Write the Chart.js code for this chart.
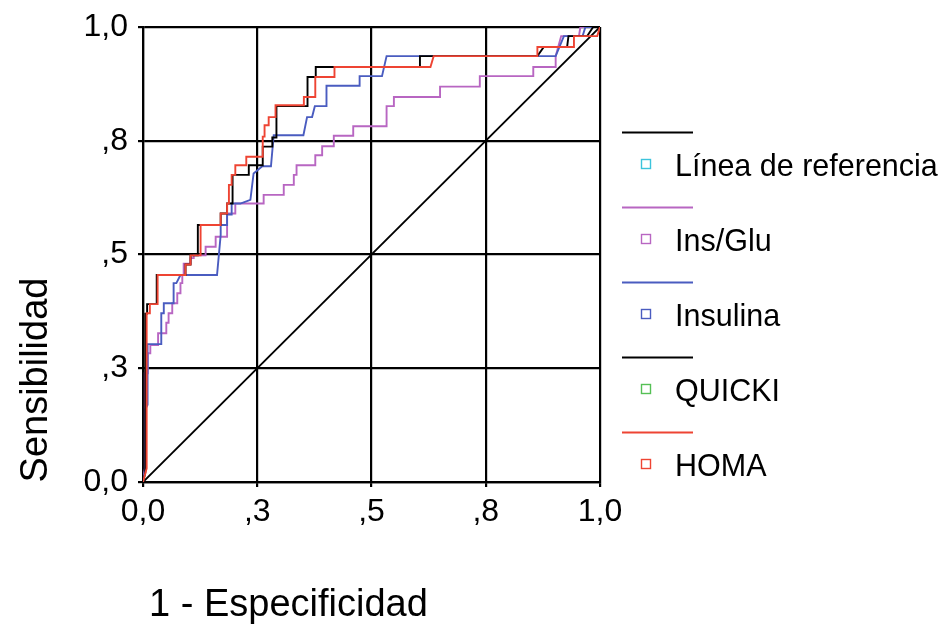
<!DOCTYPE html>
<html>
<head>
<meta charset="utf-8">
<script src="https://cdn.jsdelivr.net/npm/chart.js@4.4.0/dist/chart.umd.min.js"></script>
<style>
  html, body { margin: 0; padding: 0; background: #fff; }
  #wrap { width: 944px; height: 631px; position: relative; }
</style>
</head>
<body>
<div id="wrap"><canvas id="rocChart" width="944" height="631"></canvas></div>
<script>
// axis ticks (SPSS style labels)
const tickValues = [0, 0.25, 0.5, 0.75, 1];
const xTickLabels = ['0,0', ',3', ',5', ',8', '1,0'];
const yTickLabels = ['0,0', ',3', ',5', ',8', '1,0'];

const seriesLabels = ['Línea de referencia', 'Ins/Glu', 'Insulina', 'QUICKI', 'HOMA'];

// [1 - especificidad, sensibilidad]
const refPts = [[0, 0], [1, 1]];

const insGluPts = [[0,0],[0.004,0.03],[0.004,0.239],[0.0105,0.239],[0.0105,0.283],[0.016,0.283],[0.016,0.301],
  [0.033,0.301],[0.033,0.327],[0.051,0.327],[0.051,0.35],[0.056,0.35],[0.056,0.371],[0.064,0.371],[0.064,0.393],
  [0.075,0.393],[0.075,0.415],[0.082,0.415],[0.082,0.437],[0.086,0.437],[0.086,0.455],[0.089,0.455],[0.089,0.48],
  [0.104,0.48],[0.104,0.492],[0.111,0.492],[0.111,0.498],[0.137,0.498],[0.137,0.517],[0.159,0.517],[0.159,0.539],
  [0.184,0.539],[0.184,0.59],[0.202,0.59],[0.202,0.612],[0.264,0.612],[0.264,0.631],[0.308,0.631],[0.308,0.653],
  [0.33,0.653],[0.33,0.675],[0.336,0.675],[0.336,0.696],[0.377,0.696],[0.377,0.718],[0.392,0.718],[0.392,0.738],
  [0.4175,0.738],[0.4175,0.761],[0.46,0.761],[0.46,0.782],[0.533,0.782],[0.533,0.826],[0.549,0.826],[0.549,0.846],
  [0.65,0.846],[0.65,0.869],[0.737,0.869],[0.737,0.892],[0.854,0.892],[0.854,0.912],[0.903,0.912],[0.903,0.936],
  [0.915,0.98],[0.954,0.98],[0.957,1],[1,1]];

const insulinaPts = [[0,0],[0.005,0.03],[0.005,0.16],[0.01,0.17],[0.01,0.303],[0.04,0.303],[0.04,0.371],
  [0.0455,0.371],[0.0455,0.393],[0.067,0.393],[0.067,0.437],[0.073,0.437],[0.082,0.455],[0.162,0.455],
  [0.17,0.543],[0.17,0.565],[0.184,0.565],[0.184,0.588],[0.194,0.588],[0.194,0.612],[0.213,0.612],[0.235,0.62],
  [0.242,0.678],[0.261,0.694],[0.28,0.694],[0.286,0.762],[0.351,0.762],[0.359,0.802],[0.37,0.802],[0.376,0.826],
  [0.4015,0.826],[0.4015,0.871],[0.474,0.871],[0.474,0.892],[0.523,0.892],[0.533,0.936],[0.903,0.936],
  [0.921,0.98],[0.962,0.98],[0.968,1],[1,1]];

const quickiPts = [[0,0],[0.005,0.02],[0.005,0.37],[0.009,0.37],[0.009,0.391],[0.03,0.391],[0.03,0.455],
  [0.093,0.455],[0.093,0.478],[0.104,0.478],[0.104,0.498],[0.12,0.498],[0.12,0.565],[0.17,0.565],[0.17,0.59],
  [0.184,0.59],[0.184,0.612],[0.196,0.612],[0.196,0.675],[0.2315,0.675],[0.2315,0.696],[0.262,0.696],
  [0.262,0.737],[0.283,0.737],[0.283,0.757],[0.292,0.757],[0.292,0.826],[0.36,0.826],[0.36,0.89],[0.378,0.89],
  [0.378,0.912],[0.606,0.912],[0.606,0.936],[0.863,0.936],[0.877,0.956],[0.928,0.956],[0.931,0.98],
  [0.972,0.98],[0.985,1],[1,1]];

const homaPts = [[0,0],[0.008,0.03],[0.008,0.371],[0.015,0.371],[0.015,0.391],[0.032,0.391],[0.032,0.455],
  [0.093,0.455],[0.093,0.478],[0.104,0.478],[0.104,0.498],[0.126,0.498],[0.126,0.565],[0.17,0.565],[0.17,0.59],
  [0.184,0.59],[0.184,0.612],[0.188,0.612],[0.188,0.653],[0.194,0.653],[0.194,0.675],[0.202,0.675],[0.202,0.696],
  [0.226,0.696],[0.226,0.715],[0.262,0.715],[0.262,0.759],[0.266,0.759],[0.266,0.784],[0.275,0.784],[0.275,0.802],
  [0.29,0.802],[0.29,0.828],[0.352,0.828],[0.352,0.846],[0.377,0.846],[0.377,0.89],[0.419,0.89],[0.419,0.912],
  [0.629,0.912],[0.636,0.936],[0.863,0.936],[0.863,0.956],[0.943,0.956],[0.943,0.98],[0.994,0.98],[1,1]];

const lineColors = ['#000000', '#b866c2', '#4a5cc0', '#000000', '#ee4433'];
const markerColors = ['#3cc4dc', '#b866c2', '#4a5cc0', '#55c055', '#ee4433'];

const toXY = pts => pts.map(p => ({x: p[0], y: p[1]}));
const allPts = [refPts, insGluPts, insulinaPts, quickiPts, homaPts];
const drawOrder = [4, 3, 2, 1, 0];

const datasets = allPts.map((pts, i) => ({
    label: seriesLabels[i],
    data: toXY(pts),
    borderColor: lineColors[i],
    borderWidth: 1.9,
    pointRadius: 0,
    fill: false,
    tension: 0,
    order: drawOrder[i]
}));

const fontFamily = "'Liberation Sans', Arial, sans-serif";

const extrasPlugin = {
    id: 'extras',
    afterDraw(chart) {
        const ctx = chart.ctx;
        ctx.save();
        ctx.fillStyle = '#000';
        ctx.font = '38px ' + fontFamily;

        // axis titles
        ctx.save();
        ctx.translate(37, 380);
        ctx.rotate(-Math.PI / 2);
        ctx.textAlign = 'center';
        ctx.textBaseline = 'middle';
        ctx.fillText('Sensibilidad', 0, 0);
        ctx.restore();

        ctx.textAlign = 'left';
        ctx.textBaseline = 'middle';
        ctx.fillText('1 - Especificidad', 149, 606);

        // legend
        ctx.font = '30.5px ' + fontFamily;
        seriesLabels.forEach((label, i) => {
            const y0 = 132.5 + i * 75;
            ctx.strokeStyle = lineColors[i];
            ctx.lineWidth = 1.8;
            ctx.beginPath();
            ctx.moveTo(622, y0);
            ctx.lineTo(693, y0);
            ctx.stroke();

            ctx.strokeStyle = markerColors[i];
            ctx.lineWidth = 1.4;
            ctx.strokeRect(641.5, y0 + 27, 9, 9);

            ctx.fillStyle = '#000';
            ctx.fillText(label, 675, y0 + 35);
        });
        ctx.restore();
    }
};

const ctx = document.getElementById('rocChart').getContext('2d');
new Chart(ctx, {
    type: 'line',
    data: { datasets: datasets },
    options: {
        responsive: false,
        animation: false,
        layout: { padding: { left: 0, top: 27, right: 344, bottom: 0 } },
        scales: {
            x: {
                type: 'linear',
                min: 0,
                max: 1,
                afterBuildTicks: scale => { scale.ticks = tickValues.map(v => ({value: v})); },
                afterFit: scale => { scale.height = 149; scale.paddingLeft = 0; scale.paddingRight = 0; },
                ticks: {
                    callback: (value, index) => xTickLabels[index],
                    color: '#000',
                    font: { family: fontFamily, size: 32 },
                    padding: 6,
                    maxRotation: 0,
                    autoSkip: false
                },
                grid: { color: '#000', lineWidth: 2.2, tickLength: 5, drawTicks: true },
                border: { display: true, color: '#000', width: 2.2 }
            },
            y: {
                type: 'linear',
                min: 0,
                max: 1,
                afterBuildTicks: scale => { scale.ticks = tickValues.map(v => ({value: v})); },
                afterFit: scale => { scale.width = 143; scale.paddingTop = 0; scale.paddingBottom = 0; },
                ticks: {
                    callback: (value, index) => yTickLabels[index],
                    color: '#000',
                    font: { family: fontFamily, size: 32 },
                    padding: 10,
                    autoSkip: false
                },
                grid: { color: '#000', lineWidth: 2.2, tickLength: 5, drawTicks: true },
                border: { display: true, color: '#000', width: 2.2 }
            }
        },
        plugins: {
            legend: { display: false },
            tooltip: { enabled: false }
        }
    },
    plugins: [extrasPlugin]
});
</script>
</body>
</html>
